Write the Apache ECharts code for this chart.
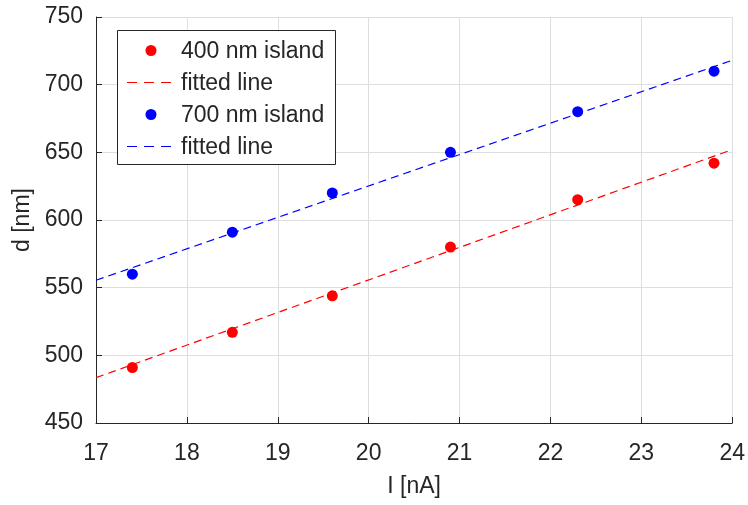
<!DOCTYPE html>
<html>
<head>
<meta charset="utf-8">
<script src="https://cdn.jsdelivr.net/npm/echarts@6/dist/echarts.min.js"></script>
<style>
html,body{margin:0;padding:0;background:#fff;}
#main{width:748px;height:505px;}
</style>
</head>
<body>
<div id="main"></div>
<script>
// Data
const currentNA = [17.4, 18.5, 19.6, 20.9, 22.3, 23.8];
const d400 = [491, 517, 544, 580, 615, 642];
const d700 = [560, 591, 620, 650, 680, 710];
const fitX = [17, 24];
const fit400 = [483.5, 652];
const fit700 = [555.5, 718];
const xTicks = [17, 18, 19, 20, 21, 22, 23, 24];
const yTicks = [450, 500, 550, 600, 650, 700, 750];
const names = ['400 nm island', 'fitted line', '700 nm island', 'fitted line'];
const kinds = ['dot', 'dash', 'dot', 'dash'];

const zip = (xs, ys) => xs.map((x, i) => [x, ys[i]]);
const txt = '#262626';
const red = '#ff0000';
const blue = '#0000ff';
const colors = [red, red, blue, blue];
const font = 'Liberation Sans, Arial, Helvetica, sans-serif';

// legend drawn as graphic elements (box, icons, real text)
const lg = { x: 117, y: 30, w: 218, h: 134, row0: 50.5, step: 32, iconL: 127, iconR: 175, textX: 181 };
const legendEls = [{
  type: 'rect', z: 100,
  shape: { x: lg.x + 0.5, y: lg.y + 0.5, width: lg.w, height: lg.h },
  style: { fill: '#fff', stroke: txt, lineWidth: 1 }
}];
names.forEach((n, i) => {
  const cy = lg.row0 + i * lg.step;
  if (kinds[i] === 'dot') {
    legendEls.push({ type: 'circle', z: 101,
      shape: { cx: (lg.iconL + lg.iconR) / 2, cy: cy, r: 5.5 },
      style: { fill: colors[i] } });
  } else {
    legendEls.push({ type: 'line', z: 101,
      shape: { x1: lg.iconL, y1: cy, x2: lg.iconR, y2: cy },
      style: { stroke: colors[i], lineWidth: 1.2, lineDash: [10, 7] } });
  }
  legendEls.push({ type: 'text', z: 101, x: lg.textX, y: cy + 1.5,
    style: { text: n, fontSize: 23, fontFamily: font, fill: txt, verticalAlign: 'middle', align: 'left' } });
});

const chart = echarts.init(document.getElementById('main'));
chart.setOption({
  animation: false,
  backgroundColor: '#fff',
  grid: { left: 96, right: 15, top: 17, bottom: 82, containLabel: false },
  xAxis: {
    type: 'value', min: xTicks[0], max: xTicks[xTicks.length - 1], interval: 1,
    name: 'I [nA]', nameLocation: 'middle', nameGap: 52,
    nameTextStyle: { fontSize: 23, color: txt, fontFamily: font },
    axisLine: { show: true, lineStyle: { color: txt, width: 1 } },
    axisTick: { show: true, inside: true, length: 6, lineStyle: { color: txt } },
    axisLabel: { fontSize: 23, color: txt, fontFamily: font, margin: 19 },
    splitLine: { show: true, lineStyle: { color: '#dedede', width: 1 } }
  },
  yAxis: {
    type: 'value', min: yTicks[0], max: yTicks[yTicks.length - 1], interval: 50,
    name: 'd [nm]', nameLocation: 'middle', nameGap: 62, nameRotate: 90,
    nameTextStyle: { fontSize: 23, color: txt, fontFamily: font },
    axisLine: { show: true, lineStyle: { color: txt, width: 1 } },
    axisTick: { show: true, inside: true, length: 6, lineStyle: { color: txt } },
    axisLabel: { fontSize: 23, color: txt, fontFamily: font, margin: 13 },
    splitLine: { show: true, lineStyle: { color: '#dedede', width: 1 } }
  },
  graphic: legendEls,
  series: [
    {
      name: names[0], type: 'scatter', data: zip(currentNA, d400),
      symbol: 'circle', symbolSize: 11, itemStyle: { color: red, opacity: 1 }, z: 3
    },
    {
      name: 'fit400', type: 'line', data: zip(fitX, fit400),
      symbol: 'none', showSymbol: false,
      lineStyle: { color: red, width: 1.2, type: [8, 5] }, z: 2
    },
    {
      name: names[2], type: 'scatter', data: zip(currentNA, d700),
      symbol: 'circle', symbolSize: 11, itemStyle: { color: blue, opacity: 1 }, z: 3
    },
    {
      name: 'fit700', type: 'line', data: zip(fitX, fit700),
      symbol: 'none', showSymbol: false,
      lineStyle: { color: blue, width: 1.2, type: [8, 5] }, z: 2
    }
  ]
});
</script>
</body>
</html>
